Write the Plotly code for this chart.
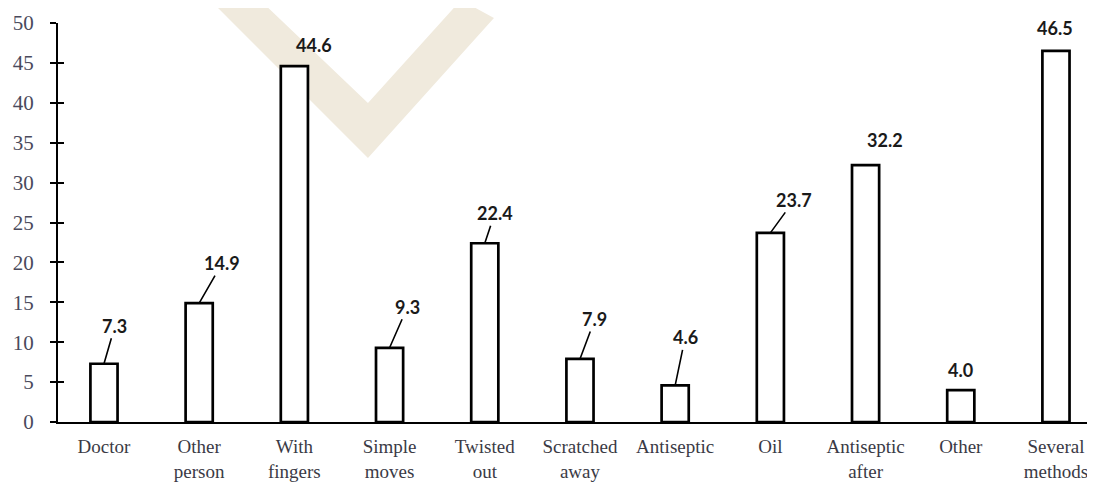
import plotly.graph_objects as go

# ---- data ----
categories = ["Doctor", "Other<br>person", "With<br>fingers", "Simple<br>moves", "Twisted<br>out",
              "Scratched<br>away", "Antiseptic", "Oil", "Antiseptic<br>after", "Other", "Several<br>methods"]
values = [7.3, 14.9, 44.6, 9.3, 22.4, 7.9, 4.6, 23.7, 32.2, 4.0, 46.5]
value_labels = ["7.3", "14.9", "44.6", "9.3", "22.4", "7.9", "4.6", "23.7", "32.2", "4.0", "46.5"]
y_ticks = [0, 5, 10, 15, 20, 25, 30, 35, 40, 45, 50]

# ---- label placement (pixel offsets of label centre from bar top; leader line flag) ----
label_dx = [11, 23, 20, 18, 10, 15, 10, 24, 19, 0, -1]
label_dy = [-38, -40, -21, -41, -30, -40, -48, -33, -25, -20, -23]
label_leader = [True, True, False, True, True, True, True, True, False, False, False]

# page body has an 8px default margin; size the figure so the plot lands where the reference has it
PAGE_OFF = 8
WIN_W, WIN_H = 1095, 483
W, H = WIN_W - PAGE_OFF, WIN_H - PAGE_OFF
PLOT_L, PLOT_R, PLOT_T, PLOT_B = 58, 1095, 23, 422   # window pixel geometry of plot area
ML = PLOT_L - PAGE_OFF
MT = PLOT_T - PAGE_OFF
MR = WIN_W - PLOT_R
MB = WIN_H - PLOT_B

fig = go.Figure()
fig.add_trace(go.Bar(
    x=categories, y=values, width=0.285,
    marker=dict(color="white", line=dict(color="black", width=2.7)),
    hoverinfo="skip", showlegend=False,
))
# invisible trace to activate the overlay axis used for inner tick marks
fig.add_trace(go.Scatter(x=[categories[0]], y=[0], yaxis="y2", mode="markers",
                         marker=dict(opacity=0), hoverinfo="skip", showlegend=False))

label_font = dict(family="Lato, 'Open Sans', sans-serif", size=18, color="#1a1a1a")
for c, v, t, dx, dy, lead in zip(categories, values, value_labels, label_dx, label_dy, label_leader):
    if lead:
        fig.add_annotation(x=c, y=v, text="<b>%s</b>" % t, showarrow=True, arrowhead=0,
                           arrowwidth=1.6, arrowcolor="black", ax=dx, ay=dy, standoff=0,
                           font=label_font)
    else:
        fig.add_annotation(x=c, y=v, text="<b>%s</b>" % t, showarrow=False,
                           xshift=dx, yshift=-dy, font=label_font)

# faint watermark (window-pixel outline converted to paper coordinates)
pw = PLOT_R - PLOT_L
ph = PLOT_B - PLOT_T
def P(px, py):
    return "%.4f,%.4f" % ((px - PLOT_L) / pw, (PLOT_B - py) / ph)
wm = [(210, 0), (260, 0), (368, 103), (461, 0), (494, 18), (368, 158)]
path = "M " + " L ".join(P(a, b) for a, b in wm) + " Z"
fig.add_shape(type="path", path=path, xref="paper", yref="paper",
              fillcolor="#f0eadd", line=dict(width=0), layer="below")

serif = "'Liberation Serif', 'Times New Roman', serif"
fig.update_layout(
    width=W, height=H,
    margin=dict(l=ML, r=MR, t=MT, b=MB, autoexpand=False),
    plot_bgcolor="rgba(0,0,0,0)", paper_bgcolor="white",
    xaxis=dict(range=[-0.483, 10.41], showline=True, linecolor="black", linewidth=2,
               ticks="", showgrid=False, zeroline=False, automargin=False,
               tickfont=dict(family=serif, size=19, color="#3a3a45"), ticklabelstandoff=6),
    yaxis=dict(range=[0, 50], tickvals=y_ticks, showline=True, linecolor="black", linewidth=2,
               ticks="outside", ticklen=6, tickwidth=2, tickcolor="black",
               showgrid=False, zeroline=False, automargin=False,
               tickfont=dict(family=serif, size=21, color="#4a4a5c"), ticklabelstandoff=12),
    yaxis2=dict(range=[0, 50], tickvals=y_ticks, overlaying="y", side="left", anchor="x",
                showline=False, ticks="inside", ticklen=6, tickwidth=2, tickcolor="black",
                showticklabels=False, showgrid=False, zeroline=False),
)

fig.write_html("out.html")
